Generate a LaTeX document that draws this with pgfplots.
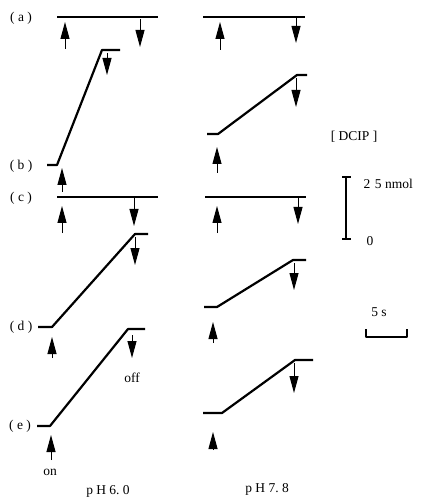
\documentclass[border=0pt]{standalone}
\usepackage{pgfplots}
\pgfplotsset{compat=1.18}
\usetikzlibrary{arrows.meta}
\usepackage{fontspec}
\setmainfont{Liberation Serif}

% traces, in pixel coordinates of the page (y grows downwards)
\pgfplotstableread{
x y
57 17
158 17
}\traceAsix
\pgfplotstableread{
x y
203 17
305 17
}\traceAseven
\pgfplotstableread{
x y
47 165
57 165
102 50
120 50
}\traceBsix
\pgfplotstableread{
x y
207 134
218 134
297 75
307 75
}\traceBseven
\pgfplotstableread{
x y
57 197
158 197
}\traceCsix
\pgfplotstableread{
x y
205 197
306 197
}\traceCseven
\pgfplotstableread{
x y
38 327
52 327
135 234
148 234
}\traceDsix
\pgfplotstableread{
x y
204 307
217 307
293 260
306 260
}\traceDseven
\pgfplotstableread{
x y
37 426
50 426
128 329
145 329
}\traceEsix
\pgfplotstableread{
x y
203 413
222 413
295 360
313 360
}\traceEseven

% light on (up) and light off (down) arrows: start and length
\pgfplotstableread{
x y u v
65 49 0 -27
220 50 0 -28
62 192 0 -24
217 173 0 -26
62 233 0 -27
217 233 0 -27
52 358 0 -21
213 343 0 -21
51 460 0 -25
213 450 0 -18
140 19 0 28
296 18 0 25
107 53 0 22
296 78 0 29
134 198 0 28
298 198 0 26
135 237 0 28
294 263 0 27
132 335 0 23
294 363 0 30
}\arrowtab

\begin{document}
\fontsize{13.5}{16}\selectfont
\begin{tikzpicture}
  \begin{axis}[
    x=1pt, y=1pt,
    xmin=0, xmax=428, ymin=0, ymax=502,
    y dir=reverse,
    hide axis,
    clip=false,
    trace/.style={black,line width=2.2pt,line join=round},
  ]
    \path (axis cs:0,0) rectangle (axis cs:428,502);
    \addplot[trace] table[x=x,y=y] {\traceAsix};
    \addplot[trace] table[x=x,y=y] {\traceAseven};
    \addplot[trace] table[x=x,y=y] {\traceBsix};
    \addplot[trace] table[x=x,y=y] {\traceBseven};
    \addplot[trace] table[x=x,y=y] {\traceCsix};
    \addplot[trace] table[x=x,y=y] {\traceCseven};
    \addplot[trace] table[x=x,y=y] {\traceDsix};
    \addplot[trace] table[x=x,y=y] {\traceDseven};
    \addplot[trace] table[x=x,y=y] {\traceEsix};
    \addplot[trace] table[x=x,y=y] {\traceEseven};
    \addplot[black,line width=1pt,
      quiver={u=\thisrow{u},v=\thisrow{v}},
      -{Triangle[length=17pt,width=9pt]}] table[x=x,y=y] {\arrowtab};
    % scale bars
    \addplot[trace] coordinates {(346,177) (346,239)};
    \addplot[trace] coordinates {(342,177) (351,177)};
    \addplot[trace] coordinates {(342,239) (351,239)};
    \addplot[trace] coordinates {(366,329) (366,337) (407,337) (407,329)};

    \node at (axis cs:21,18) {(\ a\ )};
    \node at (axis cs:21,166) {(\ b\ )};
    \node at (axis cs:21,198) {(\ c\ )};
    \node at (axis cs:21,327) {(\ d\ )};
    \node at (axis cs:20,426) {(\ e\ )};
    \node at (axis cs:132,378) {off};
    \node at (axis cs:50,472) {on};
    \node at (axis cs:108,491) {p\ H\ 6.\ 0};
    \node at (axis cs:267,489) {p\ H\ 7.\ 8};
    \node at (axis cs:354,137) {[\ DCIP\ ]};
    \node[anchor=west] at (axis cs:359,184) {2\,\,5 nmol};
    \node at (axis cs:370,241) {0};
    \node at (axis cs:379,312) {5 s};
  \end{axis}
\end{tikzpicture}
\end{document}
